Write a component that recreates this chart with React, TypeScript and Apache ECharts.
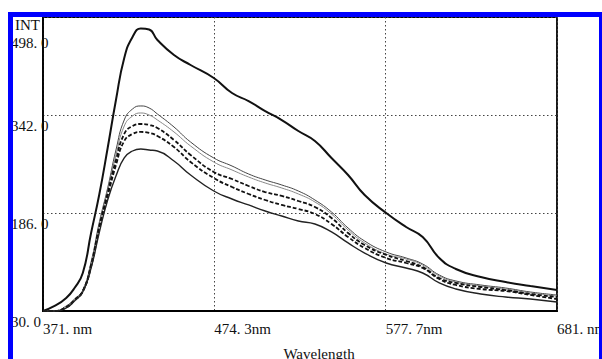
import React, { useEffect, useRef } from "react";
import * as echarts from "echarts";

// Wavelength (nm) sample positions
const WAVELENGTH = [371, 378, 385, 390, 395, 400, 405, 410, 415, 420, 425, 430, 435, 440, 450, 460, 474, 485, 495, 505, 515, 525, 535, 545, 555, 565, 578, 590, 600, 610, 620, 635, 650, 665, 681];

// Intensity curves (top to bottom)
const CURVE_A = [30, 38, 50.7, 66.6, 90.5, 154.2, 216.3, 289.5, 365.9, 432.8, 466.2, 479.7, 478.1, 461.4, 437.5, 421.6, 400.9, 377, 364.2, 348.3, 334, 316.5, 300.6, 273.5, 246.5, 214.6, 186, 163.7, 147.8, 114.4, 96.9, 84.1, 76.2, 69.8, 63.4];
const CURVE_B = [30, 30, 38, 49.1, 63.4, 108, 171.7, 225.8, 286.3, 334.1, 351.6, 356.4, 353.2, 343.6, 322.9, 299, 273.6, 260.8, 248.1, 238.6, 230.6, 221, 206.7, 187.6, 162.1, 141.4, 123.9, 114.4, 104.8, 87.3, 77.8, 71.4, 66.6, 60.2, 55.5];
const CURVE_C = [30, 30, 37.2, 48.3, 62.6, 105.6, 168.5, 222.6, 278.4, 324.5, 340.4, 345.2, 342, 334.1, 315, 292.7, 267.2, 254.5, 243.3, 233.8, 225.8, 216.3, 203.5, 184.4, 159, 138.3, 120.7, 112.8, 103.2, 85.7, 76.2, 69.8, 65, 58.7, 53.9];
const CURVE_D = [30, 30, 36.4, 47.5, 61.8, 103.2, 165.3, 217.9, 270.4, 311.8, 324.5, 327.7, 326.1, 321.3, 302.2, 278.4, 251.3, 240.1, 229, 219.4, 213.1, 205.1, 195.6, 178.1, 154.2, 135.1, 119.2, 109.6, 100, 82.5, 74.6, 68.2, 63.4, 57.1, 52.3];
const CURVE_E = [30, 30, 35.6, 46.7, 61, 100.8, 162.1, 213.1, 262.4, 300.6, 311.8, 315, 313.4, 308.6, 291.1, 267.2, 241.7, 227.4, 216.3, 206.7, 198.8, 192.4, 184.4, 168.5, 147.8, 130.3, 114.4, 106.4, 98.5, 80.9, 71.4, 65, 61.8, 55.5, 49.1];
const CURVE_F = [30, 30, 34.8, 45.9, 60.2, 98.5, 155.8, 206.7, 244.9, 273.6, 284.7, 287.9, 286.3, 284.7, 268.8, 246.5, 221, 208.3, 198.8, 189.2, 181.2, 173.3, 168.5, 155.8, 138.3, 122.3, 106.4, 98.5, 90.5, 74.6, 65, 57.1, 52.3, 49.1, 44.3];

const X_TICK_LABELS = ["371. nm", "474. 3nm", "577. 7nm", "681. nm"];
const Y_TICK_LABELS = ["30. 0", "186. 0", "342. 0", "498. 0"];
const X_MIN = 371;
const X_MAX = 681;
const Y_MIN = 30;
const Y_MAX = 498;

const FONT = "'Liberation Serif', 'DejaVu Serif', serif";

const X_STEPS = 300; // axis units across the plot
const Y_RANGE = Y_MAX - Y_MIN;

function toPoints(values: number[]) {
  return WAVELENGTH.map((nm, i) => [
    ((nm - X_MIN) / (X_MAX - X_MIN)) * X_STEPS,
    values[i] - Y_MIN,
  ]);
}

const SERIES_DEFS = [
  { name: "A", data: CURVE_A, color: "#111", width: 2, type: "solid" as any },
  { name: "B", data: CURVE_B, color: "#444", width: 1, type: "solid" as any },
  { name: "C", data: CURVE_C, color: "#888", width: 1, type: "solid" as any },
  { name: "D", data: CURVE_D, color: "#111", width: 1.8, type: [4, 2] as any },
  { name: "E", data: CURVE_E, color: "#111", width: 1.8, type: [4, 2] as any },
  { name: "F", data: CURVE_F, color: "#222", width: 1.4, type: "solid" as any },
];

export default function App() {
  const ref = useRef<HTMLDivElement>(null);
  useEffect(() => {
    if (!ref.current) return;
    const chart = echarts.init(ref.current, undefined, { renderer: "svg" });
    const yStep = Y_RANGE / 3;
    chart.setOption({
      animation: false,
      backgroundColor: "#fff",
      grid: {
        left: 43,
        right: 45,
        top: 17,
        bottom: 48,
        show: true,
        containLabel: false,
        outerBoundsMode: "none",
        borderColor: "#000",
        borderWidth: 1.8,
        backgroundColor: "transparent",
      },
      xAxis: {
        type: "value",
        min: 0,
        max: X_STEPS,
        interval: X_STEPS / 3,
        name: "Wavelength",
        nameLocation: "middle",
        nameGap: 35,
        nameTextStyle: {
          fontFamily: FONT,
          fontSize: 15,
          color: "#111",
          padding: [0, 0, 0, 38],
          verticalAlign: "top",
        },
        axisLine: { show: true, lineStyle: { color: "#000", width: 2 } },
        axisTick: { show: false },
        axisLabel: {
          show: true,
          showMinLabel: true,
          showMaxLabel: true,
          align: "left",
          margin: 10,
          fontFamily: FONT,
          fontSize: 15,
          color: "#111",
          formatter: (v: number) => X_TICK_LABELS[Math.round(v / (X_STEPS / 3))] ?? "",
        },
        splitLine: {
          show: true,
          lineStyle: { color: "#444", width: 1, type: [1.5, 2.5] },
        },
      },
      yAxis: {
        type: "value",
        min: 0,
        max: Y_RANGE,
        interval: yStep,
        axisLine: { show: true, lineStyle: { color: "#000", width: 1.6 } },
        axisTick: { show: false },
        axisLabel: {
          show: true,
          showMinLabel: true,
          showMaxLabel: true,
          inside: false,
          align: "left",
          verticalAlign: "top",
          margin: 32,
          padding: [3, 0, 0, 0],
          fontFamily: FONT,
          fontSize: 15,
          color: "#111",
          formatter: (v: number) => {
            const idx = Math.round(v / yStep);
            const lab = Y_TICK_LABELS[idx] ?? "";
            return idx === 3 ? "{top|" + lab + "}" : lab;
          },
          rich: {
            top: {
              fontFamily: FONT,
              fontSize: 15,
              color: "#111",
              padding: [15, 0, 0, 0],
            },
          },
        },
        splitLine: {
          show: true,
          lineStyle: { color: "#444", width: 1, type: [1.5, 2.5] },
        },
      },
      series: SERIES_DEFS.map((s) => ({
        name: s.name,
        type: "line",
        data: toPoints(s.data),
        showSymbol: false,
        symbol: "none",
        smooth: 0.5,
        lineStyle: { color: s.color, width: s.width, type: s.type },
        z: 3,
      })),
      graphic: [
        {
          type: "text",
          left: 15,
          top: 17,
          z: 50,
          style: { text: "INT", fontFamily: FONT, fontSize: 15, fill: "#111" },
        },
        { type: "rect", z: 100, shape: { x: 8, y: 12, width: 594, height: 5 }, style: { fill: "#0000ff" } },
        { type: "rect", z: 100, shape: { x: 8, y: 12, width: 5, height: 347 }, style: { fill: "#0000ff" } },
        { type: "rect", z: 100, shape: { x: 599, y: 12, width: 3, height: 347 }, style: { fill: "#0000ff" } },
      ],
    });
    return () => chart.dispose();
  }, []);
  return (
    <div
      ref={ref}
      style={{ position: "absolute", left: 0, top: 0, width: 602, height: 359, background: "#fff" }}
    />
  );
}
